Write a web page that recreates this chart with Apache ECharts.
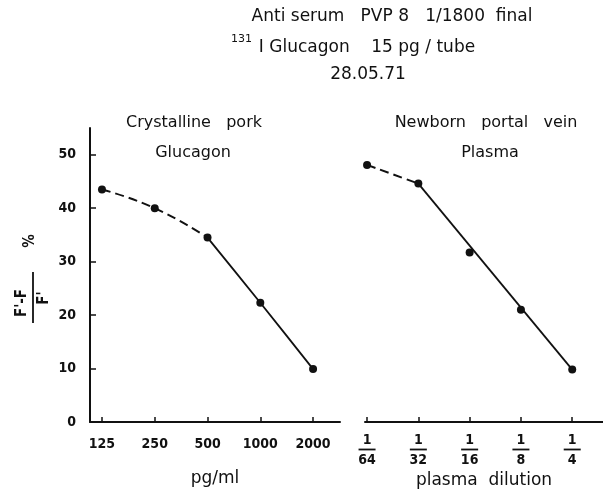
<!DOCTYPE html>
<html>
<head>
<meta charset="utf-8">
<script src="https://cdn.jsdelivr.net/npm/echarts@6/dist/echarts.min.js"></script>
<style>
html, body { margin: 0; padding: 0; background: #fff; }
#chart { width: 603px; height: 494px; }
</style>
</head>
<body>
<div id="chart"></div>
<script>
// crystalline pork glucagon, pg/ml
var porkDoses = ["125", "250", "500", "1000", "2000"];
var porkValues = [43.5, 40.0, 34.5, 22.3, 9.9];
// newborn portal vein plasma, dilution 1/n
var dilutionDen = ["64", "32", "16", "8", "4"];
var plasmaValues = [48.1, 44.6, 31.7, 21.0, 9.8];
// fitted straight line on the plasma curve (index, value)
var plasmaFit = [[1, 44.6], [4, 9.8]];
var tickIdx = [0, 1, 2, 3, 4];
var yTicks = [10, 20, 30, 40, 50];

var NARROW = '"DejaVu Sans Condensed", "Liberation Sans Narrow", "DejaVu Sans", sans-serif';
var WIDE = '"DejaVu Sans", "Noto Sans", sans-serif';
var INK = '#111';

function pairs(arr) {
  return arr.map(function (v, i) { return [i, v]; });
}
var porkPts = pairs(porkValues);
var plasmaPts = pairs(plasmaValues);

var chart = echarts.init(document.getElementById('chart'));

function xAxisBase(gi, min, max) {
  return {
    type: 'value',
    gridIndex: gi,
    min: min,
    max: max,
    splitLine: { show: false },
    axisLine: { show: true, onZero: false, lineStyle: { color: INK, width: 2 } },
    axisTick: { show: true, inside: true, length: 5, customValues: tickIdx, lineStyle: { color: INK, width: 1.5 } },
    nameLocation: 'middle',
    nameGap: 48,
    nameTextStyle: { fontFamily: WIDE, fontSize: 17, color: INK }
  };
}

var xLeft = xAxisBase(0, -0.227, 4.51);
xLeft.name = 'pg/ml';
xLeft.axisLabel = {
  customValues: tickIdx,
  margin: 15,
  fontFamily: NARROW, fontSize: 14, fontWeight: 'bold', color: INK,
  formatter: function (v) { return porkDoses[Math.round(v)]; }
};

var xRight = xAxisBase(1, -0.04, 4.6);
xRight.name = 'plasma  dilution';
xRight.nameGap = 46;
xRight.axisLabel = {
  customValues: tickIdx,
  margin: 12,
  color: INK,
  formatter: function (v) { return '{n|1}\n{b|}\n{d|' + dilutionDen[Math.round(v)] + '}'; },
  rich: {
    n: { fontFamily: NARROW, fontSize: 14, fontWeight: 'bold', lineHeight: 12, color: INK, align: 'center' },
    b: { width: 17, height: 1.8, lineHeight: 7, backgroundColor: INK, align: 'center' },
    d: { fontFamily: NARROW, fontSize: 14, fontWeight: 'bold', lineHeight: 14, color: INK, align: 'center' }
  }
};

var yBase = {
  type: 'value', min: 0, max: 55, interval: 10,
  splitLine: { show: false }
};

var option = {
  animation: false,
  backgroundColor: '#fff',
  grid: [
    { left: 90, width: 250, top: 128, bottom: 72, outerBoundsMode: 'none', containLabel: false },
    { left: 365, right: 0, top: 128, bottom: 72, outerBoundsMode: 'none', containLabel: false }
  ],
  xAxis: [xLeft, xRight],
  yAxis: [
    Object.assign({}, yBase, {
      gridIndex: 0,
      axisLine: { show: true, onZero: false, lineStyle: { color: INK, width: 2 } },
      axisTick: { show: true, inside: true, length: 6, customValues: yTicks, lineStyle: { color: INK, width: 1.5 } },
      axisLabel: { margin: 14, showMaxLabel: false, fontFamily: NARROW, fontSize: 14, fontWeight: 'bold', color: INK }
    }),
    Object.assign({}, yBase, {
      gridIndex: 1,
      axisLine: { show: false }, axisTick: { show: false }, axisLabel: { show: false }
    })
  ],
  series: [
    {
      type: 'line', xAxisIndex: 0, yAxisIndex: 0, smooth: 0.5, symbol: 'none',
      data: porkPts.slice(0, 3),
      lineStyle: { color: INK, width: 2, type: [9, 5] }
    },
    {
      type: 'line', xAxisIndex: 0, yAxisIndex: 0, smooth: 0.2, symbol: 'none',
      data: porkPts.slice(2),
      lineStyle: { color: INK, width: 1.8 }
    },
    {
      type: 'scatter', xAxisIndex: 0, yAxisIndex: 0, symbolSize: 8, z: 5,
      data: porkPts, itemStyle: { color: INK, opacity: 1 }
    },
    {
      type: 'line', xAxisIndex: 1, yAxisIndex: 1, smooth: 0.3, symbol: 'none',
      data: plasmaPts.slice(0, 2),
      lineStyle: { color: INK, width: 2, type: [9, 5] }
    },
    {
      type: 'line', xAxisIndex: 1, yAxisIndex: 1, symbol: 'none',
      data: plasmaFit,
      lineStyle: { color: INK, width: 1.8 }
    },
    {
      type: 'scatter', xAxisIndex: 1, yAxisIndex: 1, symbolSize: 8, z: 5,
      data: plasmaPts, itemStyle: { color: INK, opacity: 1 }
    }
  ],
  graphic: [
    // header
    { type: 'text', x: 392, y: 17, style: { text: 'Anti serum   PVP 8   1/1800  final', font: '17px ' + WIDE, fill: INK, align: 'center', verticalAlign: 'middle' } },
    { type: 'text', x: 231, y: 39, style: { text: '131', font: '11px ' + WIDE, fill: INK, align: 'left', verticalAlign: 'middle' } },
    { type: 'text', x: 367, y: 48, style: { text: 'I Glucagon    15 pg / tube', font: '17px ' + WIDE, fill: INK, align: 'center', verticalAlign: 'middle' } },
    { type: 'text', x: 368, y: 75, style: { text: '28.05.71', font: '17px ' + WIDE, fill: INK, align: 'center', verticalAlign: 'middle' } },
    // panel titles
    { type: 'text', x: 194, y: 123, style: { text: 'Crystalline   pork', font: '16px ' + WIDE, fill: INK, align: 'center', verticalAlign: 'middle' } },
    { type: 'text', x: 193, y: 153, style: { text: 'Glucagon', font: '16px ' + WIDE, fill: INK, align: 'center', verticalAlign: 'middle' } },
    { type: 'text', x: 486, y: 123, style: { text: 'Newborn   portal   vein', font: '16px ' + WIDE, fill: INK, align: 'center', verticalAlign: 'middle' } },
    { type: 'text', x: 490, y: 153, style: { text: 'Plasma', font: '16px ' + WIDE, fill: INK, align: 'center', verticalAlign: 'middle' } },
    // y axis name: (F' - F) / F'  %
    { type: 'text', x: 22, y: 303, rotation: Math.PI / 2, style: { text: "F'-F", font: 'bold 15px ' + NARROW, fill: INK, align: 'center', verticalAlign: 'middle' } },
    { type: 'line', shape: { x1: 33, y1: 272, x2: 33, y2: 323 }, style: { stroke: INK, lineWidth: 1.8 } },
    { type: 'text', x: 44, y: 298, rotation: Math.PI / 2, style: { text: "F'", font: 'bold 15px ' + NARROW, fill: INK, align: 'center', verticalAlign: 'middle' } },
    { type: 'text', x: 30, y: 241, rotation: Math.PI / 2, style: { text: '%', font: 'bold 15px ' + NARROW, fill: INK, align: 'center', verticalAlign: 'middle' } }
  ]
};

chart.setOption(option);
</script>
</body>
</html>
